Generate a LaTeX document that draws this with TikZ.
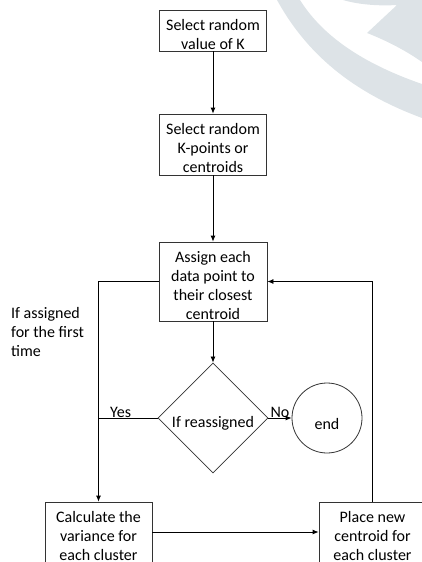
\documentclass[tikz,border=0pt]{standalone}
\usepackage{fontspec}
\setmainfont{Carlito}
\usetikzlibrary{shapes.geometric,arrows.meta}
\definecolor{markgray}{RGB}{221,227,231}
\begin{document}
\begin{tikzpicture}[x=1pt,y=-1pt,
  every node/.style={font=\fontsize{16}{19}\selectfont},
  box/.style={draw=black!80, line width=0.8pt, minimum width=107pt, inner sep=0pt},
  txt/.style={inner sep=0pt, align=center, anchor=north},
  link/.style={draw=black, line width=0.8pt},
  arr/.style={link, -{Latex[length=6pt,width=5pt]}},
]
\path[use as bounding box] (0,0) rectangle (422,562);
\clip (0,0) rectangle (422,562);

% faint logo mark in the corner
\fill[markgray] (277,0) .. controls (310,60) and (360,95) .. (422,118) -- (422,84)
  .. controls (370,66) and (325,40) .. (300,0) -- cycle;
\fill[markgray] (343,0) .. controls (360,5) and (380,6) .. (397,5) -- (367,33)
  .. controls (385,40) and (405,50) .. (422,62) -- (422,0) -- cycle;

% process boxes
\node[box, minimum height=41pt] (b1) at (213,30.5) {};
\node[box, minimum height=61pt] (b2) at (213,144.5) {};
\node[box, minimum width=108pt, minimum height=79pt] (b3) at (213,281.5) {};
\node[diamond, draw=black!80, line width=0.8pt, minimum width=110pt, minimum height=110pt, inner sep=0pt] (dec) at (213,418) {};
\node[circle, draw=black!80, line width=0.8pt, minimum size=70pt, inner sep=0pt] (fin) at (327,418) {};
\node[box, minimum height=64pt] (calc) at (98.5,534) {};
\node[box, minimum height=64pt] (place) at (372.5,534) {};

% box texts
\node[txt] (t1) at ([yshift=-7.7pt]b1.north) {\strut Select random\\value of K};
\node[txt] (t2) at ([yshift=-7.7pt]b2.north) {\strut Select random\\K-points or\\centroids};
\node[txt] (t3) at ([yshift=-7.7pt]b3.north) {\strut Assign each\\data point to\\their closest\\centroid};
\node[txt] (t4) at ([yshift=-7.7pt]calc.north) {\strut Calculate the\\variance for\\each cluster};
\node[txt] (t5) at ([yshift=-7.7pt]place.north) {\strut Place new\\centroid for\\each cluster};
\node[anchor=base, inner sep=0pt] (tdec) at ([yshift=-9pt]dec.center) {If reassigned};
\node[anchor=base, inner sep=0pt] (tend) at ([yshift=-11pt]fin.center) {end};

% connectors
\draw[arr] (b1) -- (b2);
\draw[arr] (b2) -- (b3);
\draw[arr] (b3) -- (dec);
\draw[arr] (dec) -- (fin);
\draw[arr] (b3.west) -| (calc.north);
\draw[link] (dec.west) -- (dec.west -| calc.north);
\draw[arr] ([yshift=2pt]calc.east) -- ([yshift=2pt]place.west);
\draw[arr] (place.north) |- (b3.east);

% branch labels and note
\node[anchor=base west, inner sep=0pt] (yes) at (110,417) {Yes};
\node[anchor=base, inner sep=0pt] (no) at (280,417) {No};
\node[anchor=north west, align=left, inner sep=0pt] (note) at (11,304.7) {\strut If assigned\\for the first\\time};
\end{tikzpicture}
\end{document}
